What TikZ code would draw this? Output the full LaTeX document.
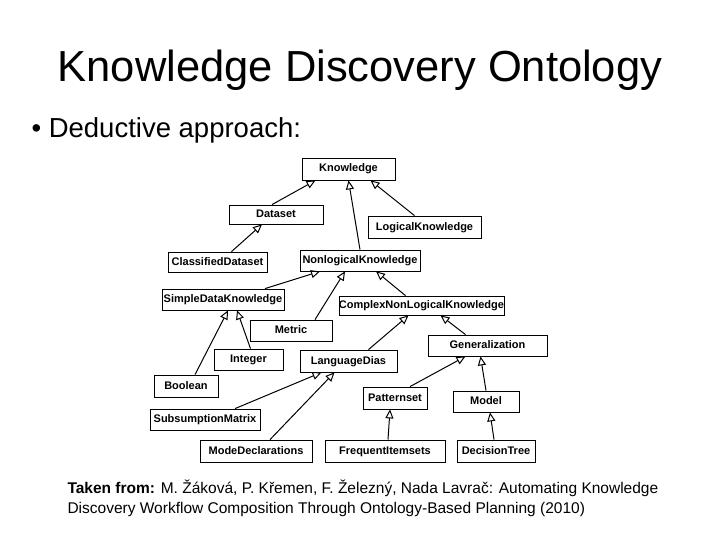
\documentclass[tikz,border=0pt]{standalone}
\usepackage{fontspec}
\setmainfont{Liberation Sans}
\usetikzlibrary{arrows.meta}
\begin{document}
\begin{tikzpicture}[x=1pt,y=-1pt,
 cls/.style={draw,line width=0.8pt,inner sep=0pt,text height=7.5pt,text depth=1.5pt,font=\fontsize{11}{12}\selectfont\bfseries},
 isa/.style={line width=1pt,-{Triangle[open,length=9pt,width=8pt]}}]
\useasboundingbox[fill=white] (0,0) rectangle (720,540);
\node (title) at (360,70) {\fontsize{43.5}{50}\selectfont Knowledge Discovery Ontology};
\node[anchor=west] (bul) at (28,130) {\fontsize{27.5}{32}\selectfont • Deductive approach:};
\newcommand{\cb}[6]{\node[cls,minimum width=#4,minimum height=#5] (#1) at (#2,#3) {#6};}
\cb{K}{348.5}{169}{93}{22}{Knowledge}
\cb{D}{276}{214.5}{94}{19}{Dataset}
\cb{LK}{424.5}{227}{113}{22}{LogicalKnowledge}
\cb{CD}{217.5}{262}{99}{20}{ClassifiedDataset}
\cb{NK}{360}{260.5}{120}{21}{NonlogicalKnowledge}
\cb{SD}{223}{299.5}{122}{21}{SimpleDataKnowledge}
\cb{CN}{421.5}{305.5}{163}{19}{ComplexNonLogicalKnowledge}
\cb{ME}{291}{330.5}{82}{21}{Metric}
\cb{GE}{487.5}{345.5}{119}{21}{Generalization}
\cb{IN}{248.5}{359.5}{69}{21}{Integer}
\cb{LD}{348.5}{361}{97}{22}{LanguageDias}
\cb{BO}{186}{386}{64}{22}{Boolean}
\cb{PS}{395}{398}{64}{22}{Patternset}
\cb{MO}{486}{401.5}{66}{21}{Model}
\cb{SM}{205}{419.5}{110}{21}{SubsumptionMatrix}
\cb{MD}{256}{451}{112}{22}{ModeDeclarations}
\cb{FI}{385}{451}{120}{22}{FrequentItemsets}
\cb{DT}{496}{451}{78}{22}{DecisionTree}
\draw[isa] ([xshift=-4pt]D.north) -- ([xshift=-33pt]K.south);
\draw[isa] ([xshift=0pt]NK.north) -- ([xshift=0pt]K.south);
\draw[isa] ([xshift=-10pt]LK.north) -- ([xshift=22pt]K.south);
\draw[isa] ([xshift=14pt]CD.north) -- ([xshift=-14pt]D.south);
\draw[isa] ([xshift=42pt]SD.north) -- ([xshift=-40pt]NK.south);
\draw[isa] ([xshift=24pt]ME.north) -- ([xshift=-15pt]NK.south);
\draw[isa] ([xshift=-16pt]CN.north) -- ([xshift=16pt]NK.south);
\draw[isa] ([xshift=9pt]BO.north) -- ([xshift=5pt]SD.south);
\draw[isa] ([xshift=2pt]IN.north) -- ([xshift=14pt]SD.south);
\draw[isa] ([xshift=20pt]LD.north) -- ([xshift=-13pt]CN.south);
\draw[isa] ([xshift=-22pt]GE.north) -- ([xshift=19pt]CN.south);
\draw[isa] ([xshift=30pt]SM.north) -- ([xshift=-27pt]LD.south);
\draw[isa] ([xshift=14pt]MD.north) -- ([xshift=-14pt]LD.south);
\draw[isa] ([xshift=15pt]PS.north) -- ([xshift=-22pt]GE.south);
\draw[isa] ([xshift=0pt]MO.north) -- ([xshift=-7pt]GE.south);
\draw[isa] ([xshift=3pt]FI.north) -- ([xshift=-5pt]PS.south);
\draw[isa] ([xshift=-2pt]DT.north) -- ([xshift=4pt]MO.south);
\node[anchor=west,align=left,font=\fontsize{15.5}{20}\selectfont] (cap) at (64,498)
 {\textbf{Taken from:} M. Žáková, P. Křemen, F. Železný, Nada Lavrač: Automating Knowledge\\Discovery Workflow Composition Through Ontology-Based Planning (2010)};
\end{tikzpicture}
\end{document}
